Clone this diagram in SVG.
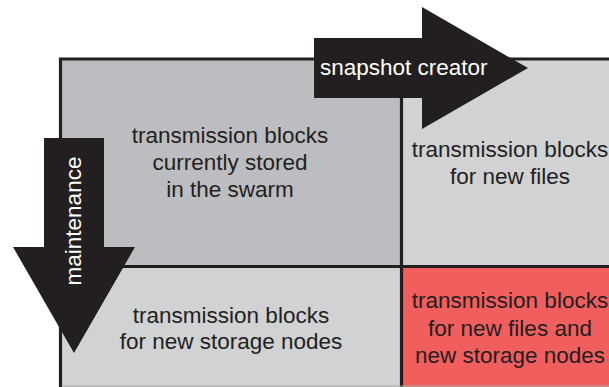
<svg xmlns="http://www.w3.org/2000/svg" width="609" height="387" viewBox="0 0 609 387">
  <style>
    .lbl { font-family: "Liberation Sans", Arial, sans-serif; font-size: 22.5px; fill: #231f20; text-anchor: middle; }
    .wht { font-family: "Liberation Sans", Arial, sans-serif; font-size: 22.5px; fill: #ffffff; }
    .grid { stroke: #231f20; stroke-width: 3.2; fill: none; }
    .arrow { fill: #231f20; }
  </style>
  <rect width="609" height="387" fill="#ffffff"/>
  <g id="cell-current">
    <rect x="60.5" y="59" width="341" height="207.5" fill="#bcbdc0"/>
    <text class="lbl" x="230" y="143">transmission blocks</text>
    <text class="lbl" x="230" y="170">currently stored</text>
    <text class="lbl" x="230" y="197">in the swarm</text>
  </g>
  <g id="cell-new-files">
    <rect x="401.5" y="59" width="220" height="207.5" fill="#d1d2d4"/>
    <text class="lbl" x="510" y="157">transmission blocks</text>
    <text class="lbl" x="510" y="184">for new files</text>
  </g>
  <g id="cell-new-nodes">
    <rect x="60.5" y="266.5" width="341" height="130" fill="#d1d2d4"/>
    <text class="lbl" x="231" y="323">transmission blocks</text>
    <text class="lbl" x="231" y="349">for new storage nodes</text>
  </g>
  <g id="cell-new-files-nodes">
    <rect x="401.5" y="266.5" width="220" height="130" fill="#f15e5e"/>
    <text class="lbl" x="510" y="308">transmission blocks</text>
    <text class="lbl" x="510" y="336">for new files and</text>
    <text class="lbl" x="510" y="363">new storage nodes</text>
  </g>
  <g id="grid-lines">
    <path class="grid" d="M60.5 400 V59 H620 M401.5 59 V400 M60.5 266.5 H620"/>
    <line x1="62" y1="386" x2="609" y2="386" stroke="#a7a8aa" stroke-width="1"/>
  </g>
  <g id="connectors">
    <g id="arrow-snapshot">
      <polygon class="arrow" points="314,38 422,38 422,7 528,68 422,129 422,98 314,98"/>
      <text class="wht" x="320" y="75">snapshot creator</text>
    </g>
    <g id="arrow-maintenance">
      <polygon class="arrow" points="44,138 104,138 104,247 135,247 74,353 13,247 44,247"/>
      <text class="wht" text-anchor="middle" transform="translate(81,221) rotate(-90)">maintenance</text>
    </g>
  </g>
</svg>
